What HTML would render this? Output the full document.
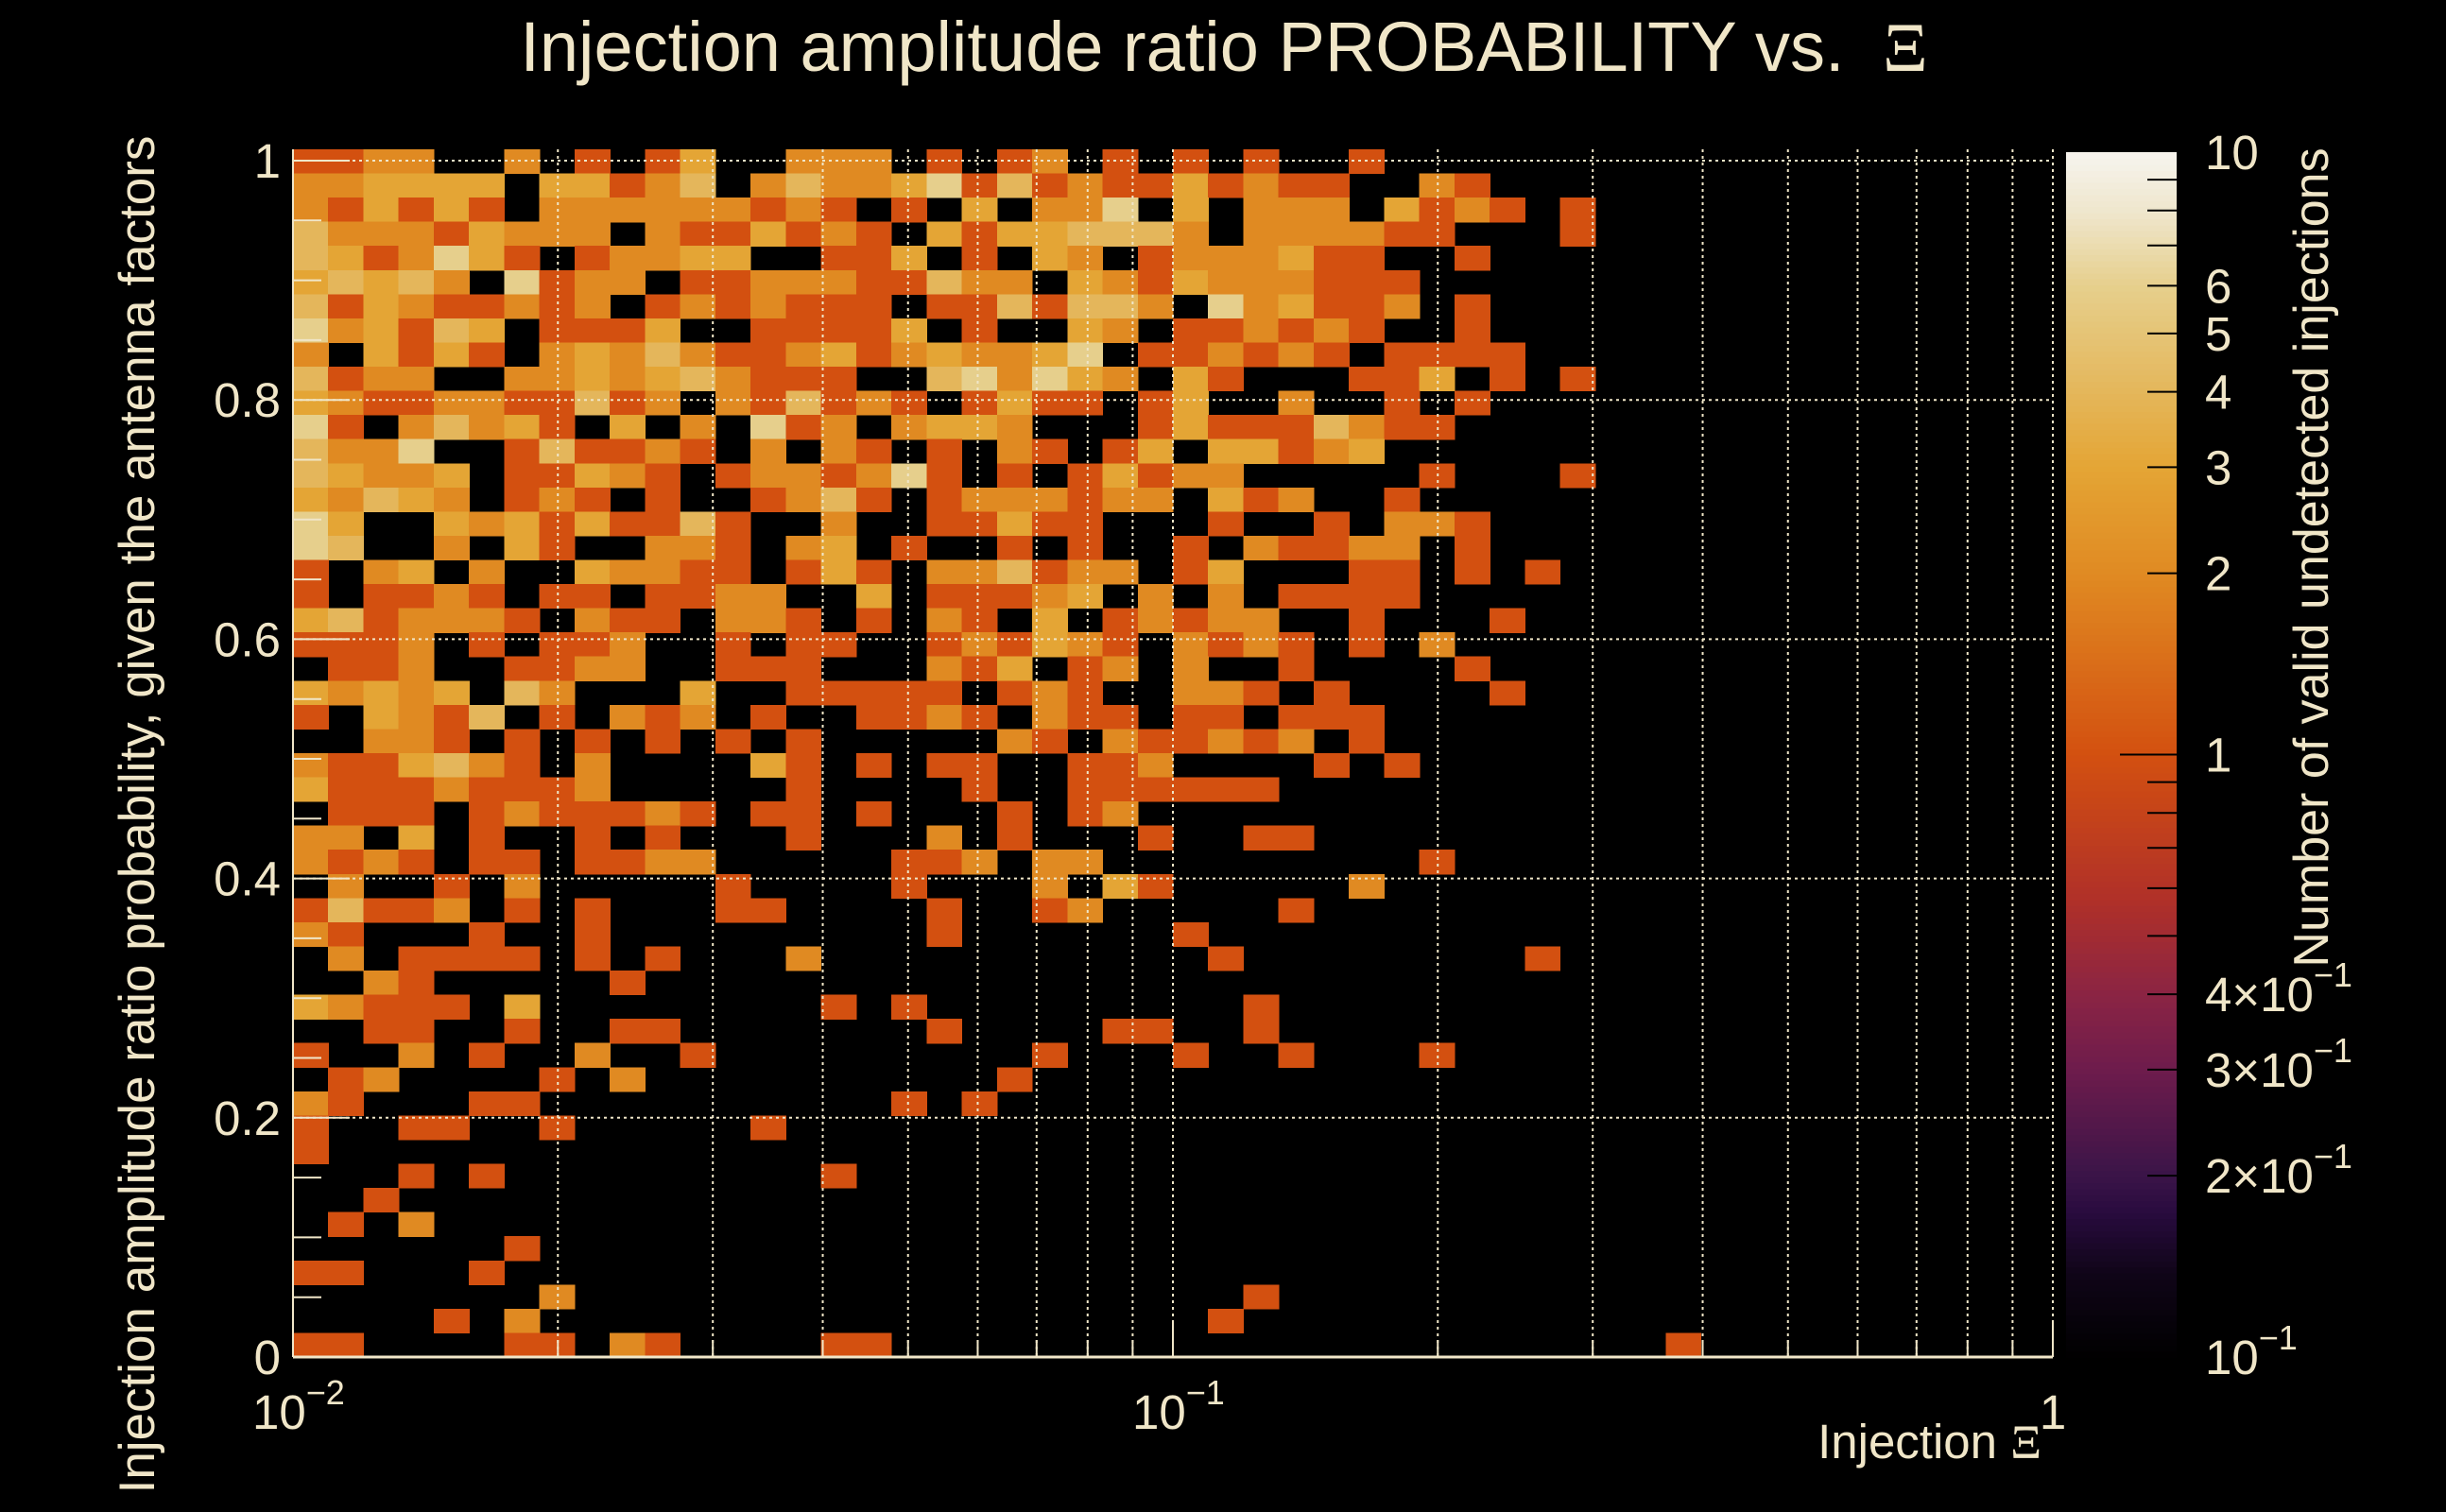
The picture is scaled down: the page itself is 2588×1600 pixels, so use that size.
<!DOCTYPE html>
<html>
<head>
<meta charset="utf-8">
<title>Injection amplitude ratio PROBABILITY vs. Xi</title>
<style>
  html,body{margin:0;padding:0;background:#000;}
  svg{display:block;}
  text{font-family:"Liberation Sans",Arial,sans-serif;fill:#F0E6C8;}
</style>
</head>
<body>
<svg id="chart" xmlns="http://www.w3.org/2000/svg" width="2588" height="1600" viewBox="0 0 2588 1600">
  <rect x="0" y="0" width="2588" height="1600" fill="#000"/>
  <g id="cells"></g>
  <g id="grid"></g>
  <g id="axes"></g>
  <g id="cbar"></g>
  <text x="1295" y="75" font-size="74" text-anchor="middle">Injection amplitude ratio PROBABILITY vs. <tspan dx="20" font-family="Liberation Serif, serif">Ξ</tspan></text>
  <text transform="translate(163,862) rotate(-90)" font-size="53" text-anchor="middle">Injection amplitude ratio probability, given the antenna factors</text>
  <text x="2160" y="1543" font-size="51" text-anchor="end">Injection <tspan font-family="Liberation Serif, serif">Ξ</tspan></text>
  <text transform="translate(2463,590) rotate(-90)" font-size="52" text-anchor="middle">Number of valid undetected injections</text>
</svg>
<script>
const xMinLog = -2;
const xMaxLog = 0;
const nXBins = 50;
const nYBins = 50;
const yMax = 1.0095;
const rowCounts = [
"1122002010130022201012010101001000000",
"2233330331240242236141211312110021000",
"2131310222222121010302260302220312101",
"4222132220211312103133444202222110001",
"4312631012233001130103201222311001000",
"3434206122011222114220321322211100000",
"4132112120121211101141442062311201000",
"6231430111300111130100320112121001000",
"2031310232421123123223601121210111100",
"4122002232342111004626320310001130101",
"3211221141202141210131101300200101000",
"6102423103020612023320001311142110000",
"4226001411210202101021013033123000000",
"4322301132101221261010131220000010001",
"3243201210100124101222122031200100000",
"6300323131141002001131100010010221000",
"6400203100221023010010100102112201000",
"1023020032211013102241220130001101010",
"1011210110112200301112302020111100000",
"3412221021102210102103012122001000100",
"1112010112001011001213210212101020000",
"0112001122001110002130120200100001000",
"3232304200030011111012100221010000100",
"1032140102120100112102110110111000000",
"0022101010101010000021021121201000000",
"2113421020000310101100112000010100000",
"3111211120000010000100111111",
"011101211121011010001012",
"22030100101000100020100010011",
"212101101122000001120220000000001",
"0200102000001000010002031000002",
"14112010100011000010012000001",
"21000100100000000010000001",
"020111101010002000000000001000000001",
"0021000001",
"3211103000000001010000000001",
"0011001001100000001000011001",
"100201002001000000000100010010001",
"012000010200000000001",
"21000110000000000101",
"10011001000001",
"1",
"0001010000000001",
"001",
"0102",
"0000001",
"110001",
"0000000200000000000000000001",
"000010200000000000000000001",
"1100001102100001100000000000000000000001"
];
const yTickValues = [0, 0.2, 0.4, 0.6, 0.8, 1];
const yTickLabels = ["0", "0.2", "0.4", "0.6", "0.8", "1"];
const cbarTickValues = [10, 6, 5, 4, 3, 2, 1, 0.4, 0.3, 0.2, 0.1];
const cbarTickLabels = ["10", "6", "5", "4", "3", "2", "1", "4×10", "3×10", "2×10", "10"];
const cbarTickSups = ["", "", "", "", "", "", "", "−1", "−1", "−1", "−1"];

const PL = 310, PR = 2172, PB = 1436, PT = 158;
const Y_PER_UNIT = 1266;
function xScale(v){ return PL + (Math.log10(v) - xMinLog) / (xMaxLog - xMinLog) * (PR - PL); }
function yScale(v){ return PB - v * Y_PER_UNIT; }
const CB_L = 2186, CB_R = 2303, CB_T = 161, CB_B = 1436;
function cbScale(v){ return CB_B - (Math.log10(v) + 1) / 2 * (CB_B - CB_T); }

const stops = [
  [0.00,[0,0,0]],[0.07,[16,5,24]],[0.12,[40,11,62]],[0.15,[58,20,72]],
  [0.24,[110,28,76]],[0.30,[138,36,68]],[0.38,[176,48,40]],[0.50,[211,80,16]],
  [0.65,[224,138,34]],[0.739,[228,165,53]],[0.80,[228,182,90]],[0.889,[230,207,140]],
  [0.95,[239,230,204]],[1.00,[246,244,238]]
];
function colorAt(p){
  p = Math.max(0, Math.min(1, p));
  for (let i = 1; i < stops.length; i++){
    if (p <= stops[i][0]){
      const a = stops[i-1], b = stops[i];
      const t = (p - a[0]) / (b[0] - a[0]);
      const c = a[1].map((v,k)=>Math.round(v + (b[1][k]-v)*t));
      return "rgb(" + c.join(",") + ")";
    }
  }
  return "rgb(246,244,238)";
}
function countColor(n){ return colorAt((Math.log10(n) + 1) / 2); }

const NS = "http://www.w3.org/2000/svg";
function mk(tag, attrs, parent){
  const e = document.createElementNS(NS, tag);
  for (const k in attrs) e.setAttribute(k, attrs[k]);
  parent.appendChild(e);
  return e;
}

const cellsG = document.getElementById("cells");
const yBin = yMax / nYBins;
const dLog = (xMaxLog - xMinLog) / nXBins;
rowCounts.forEach((row, r) => {
  const yHi = yMax - r * yBin, yLo = yHi - yBin;
  for (let c = 0; c < row.length; c++){
    const n = +row[c];
    if (!n) continue;
    const x0 = xScale(Math.pow(10, xMinLog + c * dLog));
    const x1 = xScale(Math.pow(10, xMinLog + (c + 1) * dLog));
    const el = mk("rect", {x: x0.toFixed(2), y: yScale(yHi).toFixed(2),
      width: (x1 - x0 + 0.6).toFixed(2), height: (yScale(yLo) - yScale(yHi) + 0.6).toFixed(2),
      fill: countColor(n), "shape-rendering": "crispEdges"}, cellsG);
    
    
  }
});

const gridG = document.getElementById("grid");
const gridStyle = {stroke: "#F0E6C8", "stroke-width": 2, "stroke-dasharray": "3 4"};
for (let d = -2; d < 0; d++){
  for (let m = 1; m <= 9; m++){
    if (d === -2 && m === 1) continue;
    const x = xScale(m * Math.pow(10, d));
    const l = mk("line", Object.assign({x1: x, x2: x, y1: PT, y2: PB}, gridStyle), gridG);
    
    
  }
}
{
  const l = mk("line", Object.assign({x1: PR, x2: PR, y1: PT, y2: PB}, gridStyle), gridG);
  
  
}
yTickValues.forEach(v => {
  if (v === 0) return;
  const y = yScale(v);
  const l = mk("line", Object.assign({x1: PL, x2: PR, y1: y, y2: y}, gridStyle), gridG);
  
  
});

const axG = document.getElementById("axes");
const ax1 = mk("line", {x1: PL, x2: PR, y1: PB, y2: PB, stroke: "#F0E6C8", "stroke-width": 3}, axG);


const ax2 = mk("line", {x1: PL, x2: PL, y1: PT, y2: PB, stroke: "#F0E6C8", "stroke-width": 2}, axG);


for (let d = -2; d <= 0; d++){
  for (let m = 1; m <= 9; m++){
    if (d === 0 && m > 1) break;
    const x = xScale(m * Math.pow(10, d));
    const len = m === 1 ? 36 : 18;
    const t = mk("line", {x1: x, x2: x, y1: PB, y2: PB - len, stroke: "#F0E6C8", "stroke-width": 2}, axG);
    
    
  }
}
for (let k = 0; k <= 20; k++){
  const v = k * 0.05;
  const y = yScale(v);
  const len = (k % 4 === 0) ? 60 : 30;
  const t = mk("line", {x1: PL, x2: PL + len, y1: y, y2: y, stroke: "#F0E6C8", "stroke-width": 2}, axG);
  
  
}
yTickValues.forEach((v, i) => {
  const t = mk("text", {x: 297, y: yScale(v) + 18, "font-size": 51, "text-anchor": "end"}, axG);
  t.textContent = yTickLabels[i];
  
  
});
const xLabelExps = [-2, -1];
xLabelExps.forEach(e => {
  const x = xScale(Math.pow(10, e));
  const t = mk("text", {x: x - 43, y: 1512, "font-size": 51}, axG);
  t.textContent = "10";
  const s = mk("tspan", {"font-size": 36, dy: -26}, t);
  s.textContent = "−" + (-e);
  
  
});
{
  const t = mk("text", {x: PR, y: 1512, "font-size": 51, "text-anchor": "middle"}, axG);
  t.textContent = "1";
  
  
}

const cbG = document.getElementById("cbar");
const steps = 200;
for (let i = 0; i < steps; i++){
  const p0 = i / steps, p1 = (i + 1) / steps;
  const y1 = CB_B - p1 * (CB_B - CB_T), y0 = CB_B - p0 * (CB_B - CB_T);
  const r = mk("rect", {x: CB_L, y: y1.toFixed(2), width: CB_R - CB_L, height: (y0 - y1 + 0.8).toFixed(2),
    fill: colorAt((p0 + p1) / 2), "shape-rendering": "crispEdges"}, cbG);
  
  
}
for (let d = -1; d <= 0; d++){
  for (let m = 1; m <= 9; m++){
    const v = m * Math.pow(10, d);
    if (v <= 0.1) continue;
    const y = cbScale(v);
    const len = (v === 1) ? 60 : 31;
    const t = mk("line", {x1: CB_R - len, x2: CB_R, y1: y, y2: y, stroke: "#000", "stroke-width": 2}, cbG);
    
    
  }
}
cbarTickValues.forEach((v, i) => {
  const t = mk("text", {x: 2333, y: cbScale(v) + 18, "font-size": 51}, cbG);
  t.textContent = cbarTickLabels[i];
  if (cbarTickSups[i]){
    const s = mk("tspan", {"font-size": 36, dy: -26}, t);
    s.textContent = cbarTickSups[i];
  }
  
  
});
</script>
</body>
</html>
